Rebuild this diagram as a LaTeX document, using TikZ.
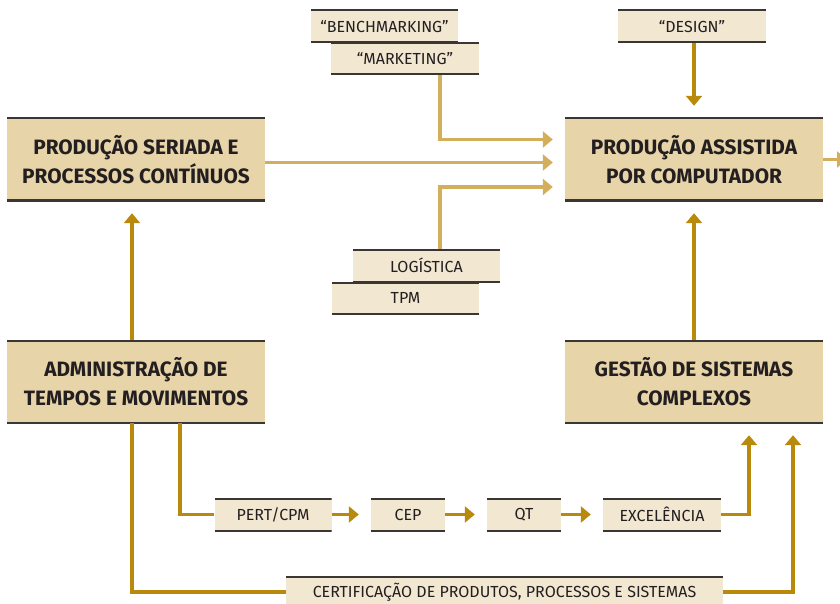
\documentclass[tikz,border=0pt]{standalone}
\usepackage{fontspec}
\setmainfont{Fira Sans}
\usetikzlibrary{arrows.meta}

\definecolor{grandfond}{HTML}{E8D4A9}
\definecolor{petitfond}{HTML}{F2E7D0}
\definecolor{filet}{HTML}{3A3633}
\definecolor{orfonce}{HTML}{B8890A}
\definecolor{orclair}{HTML}{D3AE5C}
\definecolor{texte}{HTML}{231F20}

\tikzset{
	boite/.style={rectangle,inner sep=0pt,text=texte,align=center,
		path picture={\draw[filet,line width=3pt]
			(path picture bounding box.north west) -- (path picture bounding box.north east)
			(path picture bounding box.south west) -- (path picture bounding box.south east);}},
	grande/.style={boite,fill=grandfond,minimum width=258pt,minimum height=83pt,
		font=\bfseries\fontsize{20.8}{29}\selectfont},
	petite/.style={boite,fill=petitfond,minimum height=32pt,font=\fontsize{16}{18}\selectfont},
	trait/.style={draw=orfonce,line width=3.5pt},
	fonce/.style={trait,-{Triangle[length=10pt,width=16pt]},shorten >=12pt},
	clair/.style={draw=orclair,line width=3.3pt,-{Triangle[length=10pt,width=16pt]},shorten >=12pt},
}

\begin{document}
\begin{tikzpicture}[x=1pt,y=-1pt]
		\useasboundingbox (0,0) rectangle (840,604);
		%grandes boites
		\node (node 1) at(136,159.5) [grande] {PRODUÇÃO SERIADA E\\PROCESSOS CONTÍNUOS} ;
		\node (node 2) at(694,159.5) [grande] {PRODUÇÃO ASSISTIDA\\POR COMPUTADOR} ;
		\node (node 3) at(136,381.5) [grande] {ADMINISTRAÇÃO DE\\TEMPOS E MOVIMENTOS} ;
		\node (node 4) at(694,381.5) [grande] {GESTÃO DE SISTEMAS\\COMPLEXOS} ;
		%petites boites
		\node (node 5) at(384.5,26.5) [petite,minimum width=147pt,minimum height=33pt] {“BENCHMARKING”} ;
		\node (node 6) at(405,59) [petite,minimum width=148pt] {“MARKETING”} ;
		\node (node 7) at(692,26.5) [petite,minimum width=148pt,minimum height=33pt] {“DESIGN”} ;
		\node (node 8) at(426.5,265.5) [petite,minimum width=147pt,minimum height=33pt] {LOGÍSTICA} ;
		\node (node 9) at(405.5,298) [petite,minimum width=147pt] {TPM} ;
		\node (node 10) at(273,514.5) [petite,minimum width=117pt,minimum height=33pt] {PERT/CPM} ;
		\node (node 11) at(408,514.5) [petite,minimum width=74pt,minimum height=33pt] {CEP} ;
		\node (node 12) at(524,514.5) [petite,minimum width=74pt,minimum height=33pt] {QT} ;
		\node (node 13) at(662,514.5) [petite,minimum width=118pt,minimum height=33pt] {EXCELÊNCIA} ;
		\node (node 14) at(504.5,592) [petite,minimum width=437pt] {CERTIFICAÇÃO DE PRODUTOS, PROCESSOS E SISTEMAS} ;
		\coordinate (sortie) at(847,159.5) ;

		%fleches foncees
		\draw[fonce] (node 7.south -| node 2.north) -- (node 2.north);
		\draw[fonce] ([xshift=-4pt]node 3.north) -- ([xshift=-4pt]node 1.south);
		\draw[trait] ([xshift=44pt]node 3.south) |- (node 10.west);
		\draw[trait] ([xshift=-4pt]node 3.south) |- (node 14.west);
		\draw[fonce] (node 13.east) -| ([xshift=55pt]node 4.south);
		\draw[fonce] (node 14.east) -| ([xshift=99pt]node 4.south);
		\path
		(node 4) edge[fonce] (node 2)
		(node 10) edge[fonce] (node 11)
		(node 11) edge[fonce] (node 12)
		(node 12) edge[fonce] (node 13)
		;

		%fleches claires
		\draw[clair] ([xshift=35pt]node 6.south) |- ([yshift=20pt]node 2.west);
		\draw[clair] ([yshift=-3pt]node 1.east) -- ([yshift=-3pt]node 2.west);
		\draw[clair] ([xshift=13.5pt]node 8.north) |- ([yshift=-27.5pt]node 2.west);
		\draw[clair,shorten >=0pt] (node 2.east) -- (sortie);
	\end{tikzpicture}
\end{document}
